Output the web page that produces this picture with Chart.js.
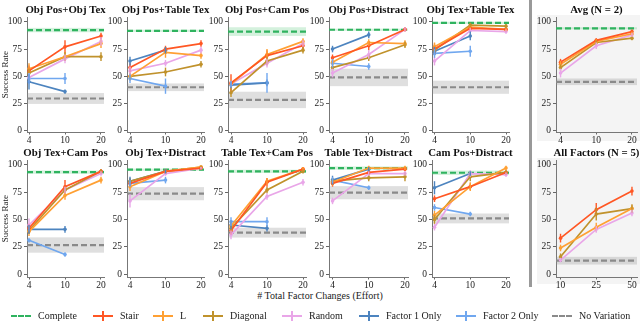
<!DOCTYPE html>
<html>
<head>
<meta charset="utf-8">
<script src="https://cdn.jsdelivr.net/npm/chart.js@4.4.1/dist/chart.umd.min.js"></script>
<style>
  body { margin: 0; background: #fff; }
  #wrap { position: relative; width: 640px; height: 323px; overflow: hidden; font-family: "Liberation Serif", serif; color: #222; }
  #wrap canvas { position: absolute; }
  .bg { position: absolute; left: 537px; width: 103px; background: #f4f4f4; }
  #sep { position: absolute; left: 529px; top: 0; width: 3px; height: 287px; background: #999; }
  #xlabel { position: absolute; top: 290px; left: 0; width: 640px; text-align: center; font-size: 10px; }
  .lg { position: absolute; top: 310px; font-size: 10px; white-space: nowrap; line-height: 12px; }
  .lg .ic { display: inline-block; position: relative; width: 20px; height: 12px; vertical-align: top; margin-right: 7px; }
  .lg .ln { position: absolute; left: 0; right: 0; top: 5px; height: 0; }
  .lg .vb { position: absolute; left: 9px; top: 1px; width: 1.5px; height: 10px; }
</style>
</head>
<body>
<div id="wrap">
  <div class="bg" style="top:15px;height:126px"></div>
  <div class="bg" style="top:158px;height:126px"></div>
  <div id="sep"></div>
  <div id="xlabel"># Total Factor Changes (Effort)</div>
</div>
<script>
// ---- data ----
const TITLES = [
  'Obj Pos+Obj Tex', 'Obj Pos+Table Tex', 'Obj Pos+Cam Pos', 'Obj Pos+Distract', 'Obj Tex+Table Tex', 'Avg (N = 2)',
  'Obj Tex+Cam Pos', 'Obj Tex+Distract', 'Table Tex+Cam Pos', 'Table Tex+Distract', 'Cam Pos+Distract', 'All Factors (N = 5)'
];
const EFFORT = ['4', '10', '20'];
const EFFORT_ALL = ['10', '25', '50'];

const STAIR = [[55, 77, 87], [58, 75, 80], [44, 69, 78], [67, 78, 93], [75, 94, 93], [63, 83, 91],
               [42, 80, 94], [83, 94, 97], [40, 84, 96], [83, 93, 96], [69, 80, 93], [33, 59, 76]];
const STAIR_ERR = [[5, 6, 3], [4, 3, 3], [8, 5, 3], [3, 4, 2], [5, 2, 2], [3, 2, 2],
                   [4, 6, 2], [3, 2, 1], [4, 4, 2], [3, 2, 2], [3, 3, 2], [4, 6, 4]];
const L_SHAPE = [[57, 68, 80], [50, 72, 69], [43, 70, 82], [63, 81, 80], [77, 95, 93], [61, 82, 89],
                 [39, 72, 86], [80, 94, 98], [44, 85, 96], [84, 97, 97], [54, 80, 97], [24, 43, 60]];
const L_ERR = [[5, 4, 4], [4, 5, 3], [4, 5, 3], [3, 3, 3], [4, 2, 2], [3, 2, 2],
               [4, 4, 3], [4, 2, 1], [4, 3, 2], [3, 2, 2], [4, 4, 2], [3, 4, 3]];
const DIAGONAL = [[53, 68, 68], [50, 54, 61], [35, 64, 74], [58, 67, 79], [74, 97, 96], [58, 81, 85],
                  [40, 77, 94], [85, 94, 98], [42, 77, 94], [85, 88, 89], [50, 89, 93], [16, 55, 60]];
const DIAGONAL_ERR = [[4, 4, 4], [3, 4, 3], [4, 4, 3], [3, 3, 3], [3, 2, 2], [3, 2, 2],
                      [3, 3, 2], [3, 2, 1], [3, 3, 2], [3, 3, 4], [4, 4, 2], [3, 6, 4]];
const RANDOM = [[49, 66, 82], [55, 62, 74], [43, 62, 80], [53, 70, 93], [64, 92, 91], [53, 78, 88],
                [45, 77, 92], [67, 92, 97], [36, 71, 84], [67, 92, 92], [43, 92, 91], [13, 41, 56]];
const RANDOM_ERR = [[4, 4, 4], [4, 3, 3], [3, 4, 3], [4, 4, 2], [4, 2, 2], [4, 3, 2],
                    [6, 3, 2], [6, 2, 1], [4, 3, 3], [3, 2, 2], [3, 3, 2], [2, 3, 3]];
const FACTOR1 = [[45, 36], [64, 74], [42, 44], [75, 88], [73, 87], null,
                 [41, 41], [85, 94], [45, 42], [86, 96], [79, 92], null];
const FACTOR1_ERR = [[7, 2], [4, 3], [3, 3], [3, 3], [4, 4], null,
                     [4, 3], [4, 2], [4, 3], [4, 2], [6, 2], null];
const FACTOR2 = [[48, 48], [48, 41], [43, 44], [62, 59], [71, 73], null,
                 [31, 18], [83, 86], [48, 48], [86, 79], [61, 55], null];
const FACTOR2_ERR = [[5, 5], [4, 7], [3, 9], [4, 3], [4, 5], null,
                     [2, 2], [3, 3], [4, 4], [3, 2], [3, 2], null];
// [mean, half band]
const COMPLETE = [[92.4, 2], [91.7, 1], [91, 4], [92.7, 1], [99, 1], [94, 1],
                  [93.3, 1.5], [95.5, 1], [94, 1.5], [97, 1.5], [92.7, 2], null];
const NO_VARIATION = [[29.7, 5], [40, 3.5], [28.4, 7.5], [49, 8], [40, 6], [45, 3],
                      [26.7, 7], [73.6, 6], [38, 4.5], [74.5, 6], [51, 4.5], [12.4, 3.5]];

const COLORS = {
  complete: '#2fb35f', completeBand: 'rgba(60,190,100,0.22)',
  noVar: '#8a8a8a', noVarBand: 'rgba(140,140,140,0.28)',
  Stair: '#ff5724', L: '#ffa033', Diagonal: '#c0922c', Random: '#e9a6e8',
  'Factor 1 Only': '#4d84bf', 'Factor 2 Only': '#70a7ef'
};

// ---- layout of the 2x6 grid (pixels) ----
const COL_AXIS = [27, 127, 228, 328.5, 432, 555.5];
const COL_X0 = [29, 130, 231, 332, 434.5, 560];
const COL_X2 = [101, 201, 303, 404, 506, 631];
const COL_RIGHT = [104, 204, 306, 407, 509, 636];
const ROW_TOP = [0, 143];
const ROW_H = [146, 148];
const ROW_YMIN = [-1, -2.5];
const PAD_TOP = 17.4, PAD_RIGHT = 8, XAXIS_H = 14;

const FONT = '"Liberation Serif", serif';

// bands + dashed reference lines under the data
const refLines = {
  id: 'refLines',
  beforeDatasetsDraw(chart, args, opts) {
    const { ctx, chartArea: a, scales: { y } } = chart;
    const draw = (ref, line, band) => {
      if (!ref) return;
      const [c, h] = ref;
      ctx.save();
      ctx.beginPath();
      ctx.rect(a.left, a.top, a.right - a.left, a.bottom - a.top);
      ctx.clip();
      const top = y.getPixelForValue(c + h), bot = y.getPixelForValue(c - h);
      ctx.fillStyle = band;
      ctx.fillRect(a.left, top, a.right - a.left, bot - top);
      const py = y.getPixelForValue(c);
      ctx.strokeStyle = line;
      ctx.lineWidth = 2.2;
      ctx.setLineDash([6, 3]);
      ctx.beginPath();
      ctx.moveTo(a.left, py);
      ctx.lineTo(a.right, py);
      ctx.stroke();
      ctx.restore();
    };
    draw(opts.noVar, COLORS.noVar, COLORS.noVarBand);
    draw(opts.complete, COLORS.complete, COLORS.completeBand);
  }
};

// vertical error bars
const errBars = {
  id: 'errBars',
  afterDatasetsDraw(chart) {
    const { ctx, scales: { x, y } } = chart;
    chart.data.datasets.forEach(ds => {
      if (!ds.err) return;
      ctx.save();
      ctx.strokeStyle = ds.borderColor;
      ctx.lineWidth = 1.4;
      ds.data.forEach((pt, i) => {
        const px = x.getPixelForValue(pt.x);
        ctx.beginPath();
        ctx.moveTo(px, y.getPixelForValue(pt.y - ds.err[i]));
        ctx.lineTo(px, y.getPixelForValue(pt.y + ds.err[i]));
        ctx.stroke();
      });
      ctx.restore();
    });
  }
};

// title centred over the axes (not the canvas)
const panelTitle = {
  id: 'panelTitle',
  afterDraw(chart, args, opts) {
    const { ctx, chartArea: a } = chart;
    ctx.save();
    ctx.font = 'bold 10.8px ' + FONT;
    ctx.fillStyle = '#111';
    ctx.textAlign = 'center';
    ctx.textBaseline = 'middle';
    ctx.fillText(opts.text, (a.left + a.right) / 2, 10);
    ctx.restore();
  }
};

function makePanel(p) {
  const row = p < 6 ? 0 : 1, col = p % 6;
  const yW = col === 0 ? COL_AXIS[0] : 26;
  const chartW = COL_RIGHT[col] - COL_AXIS[col];
  const step = (COL_X2[col] - COL_X0[col]) / 2;
  const labels = p === 11 ? EFFORT_ALL : EFFORT;

  const canvas = document.createElement('canvas');
  canvas.width = Math.round(yW + chartW + PAD_RIGHT);
  canvas.height = ROW_H[row];
  canvas.style.left = (COL_AXIS[col] - yW) + 'px';
  canvas.style.top = ROW_TOP[row] + 'px';
  document.getElementById('wrap').appendChild(canvas);

  const series = [
    ['Stair', STAIR, STAIR_ERR], ['L', L_SHAPE, L_ERR], ['Diagonal', DIAGONAL, DIAGONAL_ERR],
    ['Random', RANDOM, RANDOM_ERR], ['Factor 1 Only', FACTOR1, FACTOR1_ERR], ['Factor 2 Only', FACTOR2, FACTOR2_ERR]
  ];
  const datasets = series.filter(s => s[1][p]).map(([name, vals, errs]) => ({
    label: name,
    data: vals[p].map((v, i) => ({ x: i, y: v })),
    err: errs[p],
    borderColor: COLORS[name],
    backgroundColor: COLORS[name],
    borderWidth: 1.7,
    pointRadius: 1.8,
    pointBorderWidth: 0,
    tension: 0
  }));

  new Chart(canvas, {
    type: 'line',
    data: { datasets },
    plugins: [refLines, errBars, panelTitle],
    options: {
      responsive: false,
      animation: false,
      devicePixelRatio: 1,
      layout: { padding: { top: PAD_TOP, right: PAD_RIGHT, left: 0, bottom: 0 } },
      plugins: {
        legend: { display: false },
        tooltip: { enabled: false },
        refLines: { complete: COMPLETE[p], noVar: NO_VARIATION[p] },
        panelTitle: { text: TITLES[p] }
      },
      scales: {
        x: {
          type: 'linear',
          min: -(COL_X0[col] - COL_AXIS[col]) / step,
          max: 2 + (COL_RIGHT[col] - COL_X2[col]) / step,
          afterBuildTicks: s => { s.ticks = [0, 1, 2].map(v => ({ value: v })); },
          afterFit: s => { s.height = XAXIS_H; },
          ticks: { callback: v => labels[v], color: '#222', padding: 0, font: { family: FONT, size: 9.5 }, maxRotation: 0 },
          grid: { drawOnChartArea: false, tickLength: 2.5, color: '#666' },
          border: { color: '#777', width: 1 }
        },
        y: {
          min: ROW_YMIN[row],
          max: 104,
          afterBuildTicks: s => { s.ticks = [0, 25, 50, 75, 100].map(v => ({ value: v })); },
          afterFit: s => { s.width = yW; },
          ticks: { color: '#222', padding: 2, font: { family: FONT, size: 9.5 } },
          grid: { drawOnChartArea: false, tickLength: 3, color: '#666' },
          border: { color: '#777', width: 1 },
          title: {
            display: col === 0, text: 'Success Rate', color: '#222',
            font: { family: FONT, size: 9 }, padding: { top: 0, bottom: 0 }
          }
        }
      }
    }
  });
}

for (let p = 0; p < TITLES.length; p++) makePanel(p);

// legend
const LEGEND = [
  ['Complete', COLORS.complete, true], ['Stair', COLORS.Stair], ['L', COLORS.L], ['Diagonal', COLORS.Diagonal],
  ['Random', COLORS.Random], ['Factor 1 Only', COLORS['Factor 1 Only']], ['Factor 2 Only', COLORS['Factor 2 Only']],
  ['No Variation', COLORS.noVar, true]
];
const LEGEND_LEFT = [11, 93, 153, 203, 282, 359, 456, 552];
LEGEND.forEach(([name, color, dashed], i) => {
  const d = document.createElement('div');
  d.className = 'lg';
  d.style.left = LEGEND_LEFT[i] + 'px';
  const line = dashed
    ? `<span class="ln" style="border-top:2px dashed ${color}"></span>`
    : `<span class="ln" style="border-top:2px solid ${color}"></span><span class="vb" style="background:${color}"></span>`;
  d.innerHTML = `<span class="ic">${line}</span>${name}`;
  document.getElementById('wrap').appendChild(d);
});
</script>
</body>
</html>
